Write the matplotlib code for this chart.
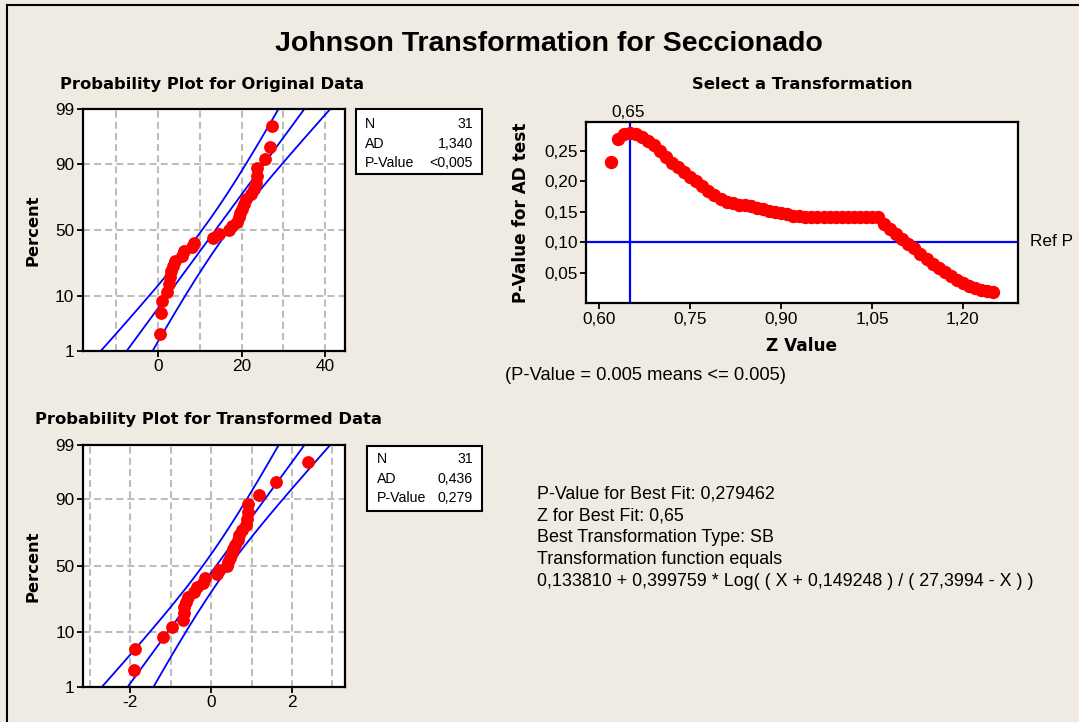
import matplotlib
matplotlib.use('Agg')
import matplotlib.pyplot as plt
import numpy as np
from statistics import NormalDist
from matplotlib.patches import Rectangle
from matplotlib.lines import Line2D

plt.rcParams['font.family'] = ['Liberation Sans', 'DejaVu Sans']
plt.rcParams['lines.scale_dashes'] = False

# ---------------- data ----------------
original_data = [0.5, 0.6, 1.0, 2.0, 2.6, 2.9, 3.0, 3.5, 4.0, 5.6, 6.2, 8.2, 8.6,
                 13.2, 14.5, 17.0, 17.8, 18.8, 19.3, 19.6, 20.0, 20.5, 21.0, 22.2,
                 22.9, 23.5, 23.7, 23.8, 25.5, 26.9, 27.3]
transformed_data = [-1.90, -1.88, -1.19, -0.97, -0.69, -0.67, -0.66, -0.62, -0.58,
                    -0.42, -0.36, -0.20, -0.16, 0.14, 0.20, 0.38, 0.42, 0.47, 0.51,
                    0.54, 0.60, 0.66, 0.70, 0.77, 0.85, 0.89, 0.90, 0.91, 1.18, 1.60, 2.39]
z_values = [0.62, 0.63, 0.64, 0.65, 0.66, 0.67, 0.68, 0.69, 0.70, 0.71, 0.72, 0.73,
            0.74, 0.75, 0.76, 0.77, 0.78, 0.79, 0.80, 0.81, 0.82, 0.83, 0.84, 0.85,
            0.86, 0.87, 0.88, 0.89, 0.90, 0.91, 0.92, 0.93, 0.94, 0.95, 0.96, 0.97,
            0.98, 0.99, 1.00, 1.01, 1.02, 1.03, 1.04, 1.05, 1.06, 1.07, 1.08, 1.09,
            1.10, 1.11, 1.12, 1.13, 1.14, 1.15, 1.16, 1.17, 1.18, 1.19, 1.20, 1.21,
            1.22, 1.23, 1.24, 1.25]
p_values = [0.232, 0.270, 0.277, 0.2795, 0.278, 0.273, 0.266, 0.259, 0.250, 0.240,
            0.231, 0.223, 0.215, 0.208, 0.200, 0.193, 0.185, 0.177, 0.171, 0.166,
            0.164, 0.162, 0.161, 0.159, 0.157, 0.154, 0.152, 0.150, 0.148, 0.146,
            0.144, 0.143, 0.142, 0.142, 0.142, 0.142, 0.142, 0.142, 0.142, 0.142,
            0.142, 0.142, 0.142, 0.142, 0.142, 0.130, 0.122, 0.114, 0.106, 0.098,
            0.090, 0.081, 0.072, 0.064, 0.058, 0.051, 0.044, 0.038, 0.033, 0.028,
            0.025, 0.022, 0.020, 0.018]
best_z = 0.65
ref_p = 0.10
percent_ticks = [1, 10, 50, 90, 99]
orig_xticks = [0, 20, 40]
orig_xgrid = [-10, 0, 10, 20, 30, 40]
trans_xticks = [-2, 0, 2]
trans_xgrid = [-3, -2, -1, 0, 1, 2, 3]
z_ticks = [0.60, 0.75, 0.90, 1.05, 1.20]
z_ticklabels = ['0,60', '0,75', '0,90', '1,05', '1,20']
p_ticks = [0.05, 0.10, 0.15, 0.20, 0.25]
p_ticklabels = ['0,05', '0,10', '0,15', '0,20', '0,25']
orig_stats = [('N', '31'), ('AD', '1,340'), ('P-Value', '<0,005')]
trans_stats = [('N', '31'), ('AD', '0,436'), ('P-Value', '0,279')]
info_lines = ['P-Value for Best Fit: 0,279462',
              'Z for Best Fit: 0,65',
              'Best Transformation Type: SB',
              'Transformation function equals',
              '0,133810 + 0,399759 * Log( ( X + 0,149248 ) / ( 27,3994 - X ) )']

# ---------------- layout helpers ----------------
W, H = 1079, 722
BG = '#EFEBE2'
RED = '#FF0000'
BLUE = '#0000FF'
GRID = '#BDBDBD'
BOLD = dict(family='DejaVu Sans', fontweight='bold')

fig = plt.figure(figsize=(W / 100, H / 100), dpi=100)
fig.patch.set_facecolor(BG)


def add_ax(l, t, r, b):
    return fig.add_axes([l / W, 1 - b / H, (r - l) / W, (b - t) / H])


def ftext(x, y, s, **kw):
    return fig.text(x / W, 1 - y / H, s, **kw)


# frame
fig.add_artist(Line2D([7 / W, 7 / W], [0, 1 - 5 / H], color='black', lw=1.5))
fig.add_artist(Line2D([7 / W, 1], [1 - 5 / H, 1 - 5 / H], color='black', lw=1.5))

nd = NormalDist()


def prob_plot(ax, data, xlim, xticks, xgrid):
    data = np.sort(np.asarray(data, dtype=float))
    n = len(data)
    ranks = np.arange(1, n + 1)
    pos = (ranks - 0.3) / (n + 0.4)          # Benard median ranks
    zpos = np.array([nd.inv_cdf(p) for p in pos])
    mu = data.mean()
    sigma = data.std()
    zz = np.linspace(-3.2, 3.2, 200)
    center = mu + zz * sigma
    half = 1.96 * sigma * np.sqrt(1.0 / n + zz ** 2 / (2.0 * n))
    ax.set_facecolor('white')
    ylo, yhi = nd.inv_cdf(0.01), nd.inv_cdf(0.99)
    for g in xgrid:
        ax.axvline(g, color=GRID, lw=1.5, ls=(0, (5, 3)), zorder=1)
    for p in [10, 50, 90]:
        ax.axhline(nd.inv_cdf(p / 100), color=GRID, lw=1.5, ls=(0, (5, 3)), zorder=1)
    for line in (center, center - half, center + half):
        ax.plot(line, zz, color=BLUE, lw=1.3, zorder=2)
    ax.plot(data, zpos, 'o', color=RED, ms=8.2, mec=RED, zorder=3)
    ax.set_xlim(*xlim)
    ax.set_ylim(ylo, yhi)
    ax.set_xticks(xticks)
    ax.set_xticklabels([str(t) for t in xticks])
    ax.set_yticks([nd.inv_cdf(p / 100) for p in percent_ticks])
    ax.set_yticklabels([str(p) for p in percent_ticks])
    ax.tick_params(direction='out', length=4, width=1.3, labelsize=12.4, pad=2)
    for s in ax.spines.values():
        s.set_linewidth(1.6)


def stats_box(l, t, r, b, rows, xl, xr, ys):
    fig.add_artist(Rectangle((l / W, 1 - b / H), (r - l) / W, (b - t) / H,
                             transform=fig.transFigure, facecolor='white',
                             edgecolor='black', lw=1.5))
    for (k, v), y in zip(rows, ys):
        ftext(xl, y, k, fontsize=10.2, va='center', ha='left')
        ftext(xr, y, v, fontsize=10.2, va='center', ha='right')


# ---------------- title ----------------
ftext(549, 51, 'Johnson Transformation for Seccionado', fontsize=20.5,
      fontweight='bold', ha='center', va='baseline', family='Liberation Sans')

# ---------------- original probability plot ----------------
ax1 = add_ax(82.7, 109.3, 345, 350.7)
prob_plot(ax1, original_data, (-18.1, 44.8), orig_xticks, orig_xgrid)
ftext(60, 89, 'Probability Plot for Original Data', fontsize=11.8, ha='left',
      va='baseline', **BOLD)
ftext(33, 230, 'Percent', fontsize=11.8, rotation=90, ha='center', va='center', **BOLD)
stats_box(356, 109.3, 482, 174, orig_stats, 365, 473, [124.3, 143.8, 162.6])

# ---------------- transformed probability plot ----------------
ax2 = add_ax(83, 445, 345, 686.7)
prob_plot(ax2, transformed_data, (-3.17, 3.31), trans_xticks, trans_xgrid)
ftext(35, 424, 'Probability Plot for Transformed Data', fontsize=11.8, ha='left',
      va='baseline', **BOLD)
ftext(33, 566, 'Percent', fontsize=11.8, rotation=90, ha='center', va='center', **BOLD)
stats_box(367, 445.7, 482, 511, trans_stats, 377, 473, [459, 479, 497.5])

# ---------------- select a transformation ----------------
ax3 = add_ax(586, 121.7, 1018.3, 303.3)
ax3.set_facecolor('white')
ax3.axvline(best_z, color=BLUE, lw=1.6, zorder=1)
ax3.axhline(ref_p, color=BLUE, lw=1.6, zorder=1)
ax3.plot(z_values, p_values, 'o', color=RED, mec=RED, ms=8.6, zorder=3)
ax3.set_xlim(0.578, 1.2915)
ax3.set_ylim(0.0, 0.298)
ax3.set_xticks(z_ticks)
ax3.set_xticklabels(z_ticklabels)
ax3.set_yticks(p_ticks)
ax3.set_yticklabels(p_ticklabels)
ax3.tick_params(direction='out', length=4, width=1.3, labelsize=12.4, pad=2)
for s in ax3.spines.values():
    s.set_linewidth(1.6)
ftext(802, 89, 'Select a Transformation', fontsize=11.8, ha='center',
      va='baseline', **BOLD)
ftext(521, 212.5, 'P-Value for AD test', fontsize=12.2, rotation=90,
      ha='center', va='center', **BOLD)
ftext(802, 351, 'Z Value', fontsize=12.2, ha='center', va='baseline', **BOLD)
ftext(628, 117, '0,65', fontsize=12.4, ha='center', va='baseline')
ftext(1030, 241, 'Ref P', fontsize=12.4, ha='left', va='center')
ftext(505, 380.5, '(P-Value = 0.005 means <= 0.005)', fontsize=13.2, ha='left',
      va='baseline')

# ---------------- info text ----------------
for i, line in enumerate(info_lines):
    ftext(537, 498.5 + 22 * i, line, fontsize=12.9, ha='left', va='baseline')

fig.savefig('out.png', dpi=100, facecolor=BG)
